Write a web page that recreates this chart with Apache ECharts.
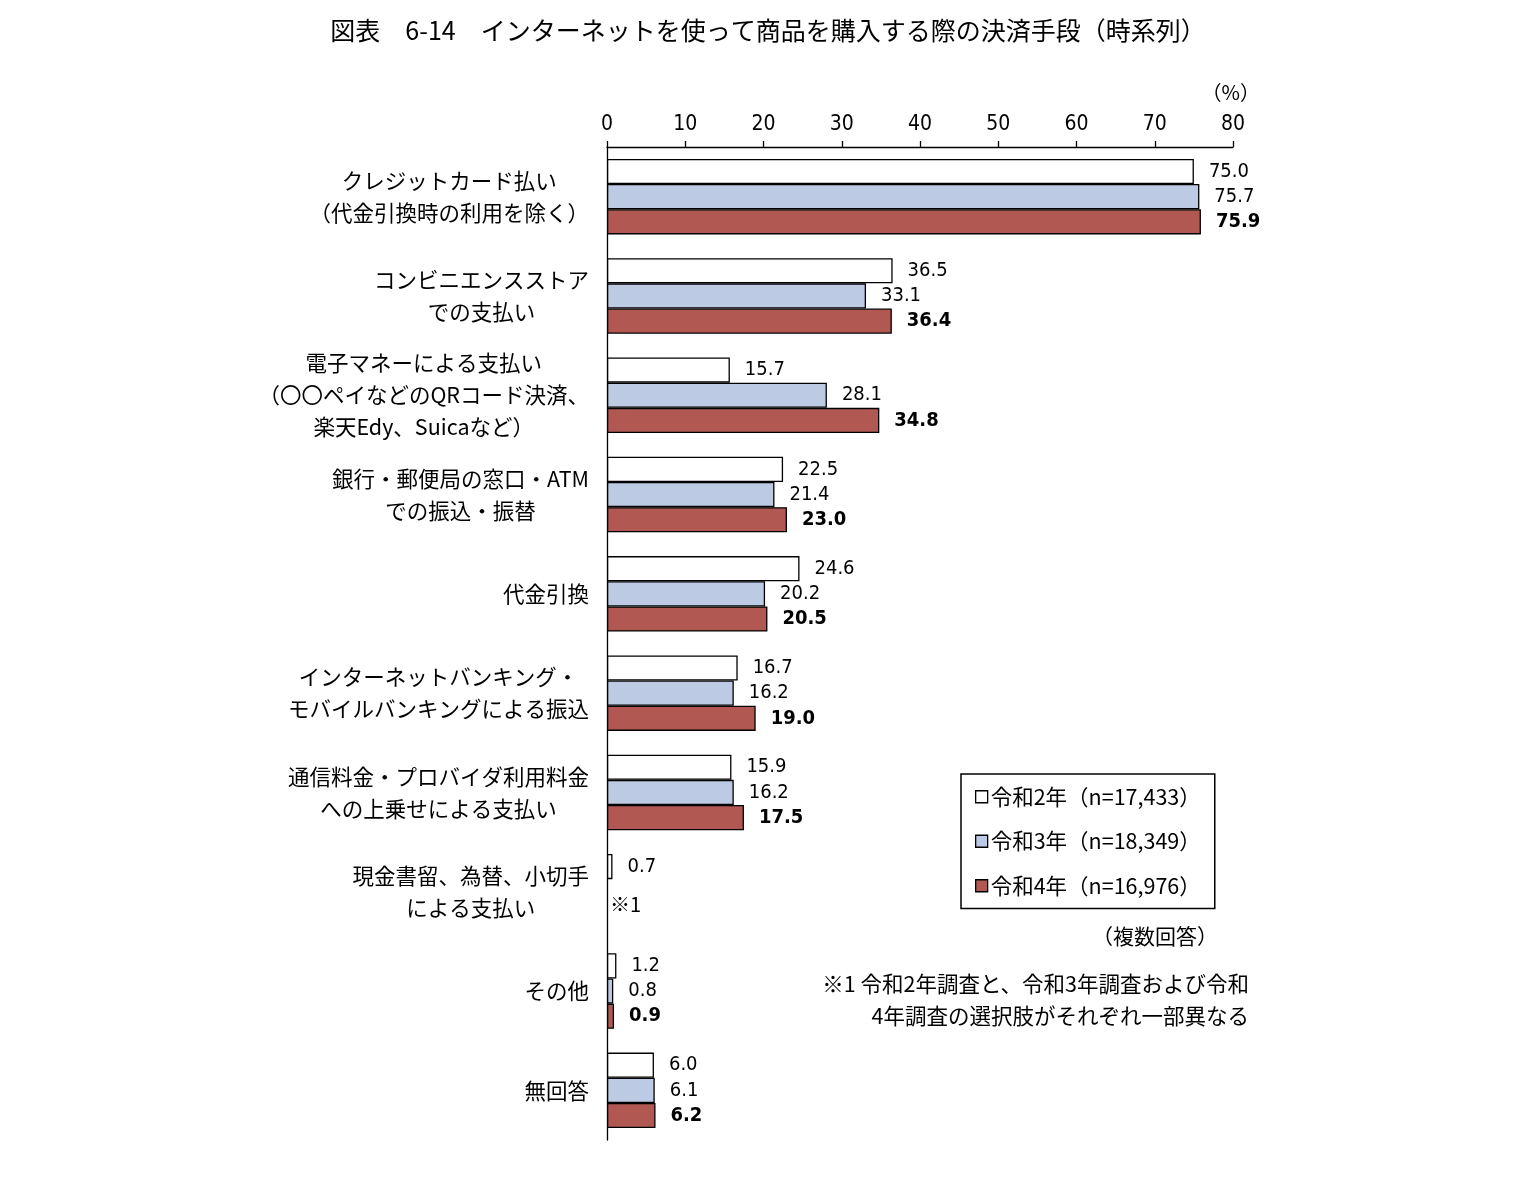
<!DOCTYPE html>
<html lang="ja">
<head>
    <meta charset="utf-8">
    <title>決済手段（時系列）</title>
    <script src="https://cdn.jsdelivr.net/npm/echarts@6/dist/echarts.min.js"></script>
    <style type="text/css">
        html, body {margin: 0; padding: 0; background: #fff;}
        #chart {width: 1536px; height: 1200px;}
    </style>
</head>
<body>
    <div id="chart"></div>
    <script>
        // categories, top to bottom; each entry is the lines of the label
        var categories = [
            ['クレジットカード払い', '（代金引換時の利用を除く）'],
            ['コンビニエンスストア', 'での支払い'],
            ['電子マネーによる支払い', '（〇〇ペイなどのQRコード決済、', '楽天Edy、Suicaなど）'],
            ['銀行・郵便局の窓口・ATM', 'での振込・振替'],
            ['代金引換'],
            ['インターネットバンキング・', 'モバイルバンキングによる振込'],
            ['通信料金・プロバイダ利用料金', 'への上乗せによる支払い'],
            ['現金書留、為替、小切手', 'による支払い'],
            ['その他'],
            ['無回答']
        ];
        var seriesNames = ['令和2年（n=17,433）', '令和3年（n=18,349）', '令和4年（n=16,976）'];
        var r2 = [75.0, 36.5, 15.7, 22.5, 24.6, 16.7, 15.9, 0.7, 1.2, 6.0];
        var r3 = [75.7, 33.1, 28.1, 21.4, 20.2, 16.2, 16.2, null, 0.8, 6.1];
        var r4 = [75.9, 36.4, 34.8, 23.0, 20.5, 19.0, 17.5, null, 0.9, 6.2];
        var xTicks = {min: 0, max: 80, interval: 10};
        var missingNote = '※1';

        var jp = '"Noto Sans CJK JP", "Noto Sans", sans-serif';
        var narrow = '"Liberation Sans Narrow", "DejaVu Sans Condensed", "Liberation Sans", sans-serif';
        var fills = ['#ffffff', '#bccbe3', '#b15852'];

        function makeData(arr, withNote) {
            return arr.map(function (v) {
                if (v !== null) return v;
                if (!withNote) return {value: null};
                return {
                    value: 0,
                    itemStyle: {borderWidth: 0, color: 'transparent'},
                    label: {formatter: missingNote, offset: [0, 13], distance: 3, fontFamily: jp, fontSize: 20}
                };
            });
        }

        var allData = [makeData(r2, false), makeData(r3, true), makeData(r4, false)];
        var series = allData.map(function (d, i) {
            return {
                name: seriesNames[i], type: 'bar', data: d,
                barGap: 0, barCategoryGap: '24%',
                itemStyle: {color: fills[i], borderColor: '#000', borderWidth: 1.3},
                label: {
                    show: true, position: 'right', distance: 15,
                    color: '#000', fontFamily: narrow, fontSize: 20,
                    fontWeight: i === 2 ? 'bold' : 'normal',
                    formatter: function (p) { return p.value.toFixed(1); }
                },
                emphasis: {disabled: true}
            };
        });

        var chart = echarts.init(document.getElementById('chart'));
        chart.setOption({
            animation: false,
            title: {
                text: '図表　6-14　インターネットを使って商品を購入する際の決済手段（時系列）',
                left: 'center', top: 13,
                textStyle: {fontFamily: jp, fontSize: 25, fontWeight: 'normal', color: '#000'}
            },
            grid: {left: 607, right: 303, top: 147, bottom: 60},
            xAxis: {
                type: 'value', position: 'top',
                min: xTicks.min, max: xTicks.max, interval: xTicks.interval,
                axisLine: {show: true, lineStyle: {color: '#000', width: 1.3}},
                axisTick: {show: true, length: 6, lineStyle: {color: '#000', width: 1.3}},
                axisLabel: {color: '#000', fontFamily: narrow, fontSize: 21, margin: 12},
                splitLine: {show: false}
            },
            yAxis: {
                type: 'category', inverse: true,
                data: categories.map(function (c) { return c.join('\n'); }),
                axisLine: {lineStyle: {color: '#000', width: 1.3}},
                axisTick: {length: 6, lineStyle: {color: '#000', width: 1.3}},
                axisLabel: {
                    margin: 18, align: 'right',
                    formatter: function (v) {
                        return v.split('\n').map(function (l) { return '{c|' + l + '}'; }).join('\n');
                    },
                    rich: {
                        c: {align: 'center', fontFamily: jp, fontSize: 21.5, color: '#000', lineHeight: 32}
                    }
                }
            },
            legend: {
                orient: 'vertical', left: 961, top: 774,
                padding: [12, 14, 12, 14], itemGap: 23,
                itemWidth: 12, itemHeight: 12, icon: 'rect', itemStyle: {borderWidth: 1.3},
                backgroundColor: '#fff', borderColor: '#000', borderWidth: 1.5,
                textStyle: {fontFamily: jp, fontSize: 21.5, color: '#000', padding: [0, 0, 0, -2]},
                data: seriesNames
            },
            graphic: [
                {type: 'text', right: 276, top: 82,
                 style: {text: '（%）', font: '20px ' + jp, fill: '#000'}},
                {type: 'text', right: 318, top: 926,
                 style: {text: '（複数回答）', font: '21px ' + jp, fill: '#000'}},
                {type: 'text', right: 287, top: 973,
                 style: {text: '※1 令和2年調査と、令和3年調査および令和', font: '21.5px ' + jp, fill: '#000'}},
                {type: 'text', right: 287, top: 1005,
                 style: {text: '4年調査の選択肢がそれぞれ一部異なる', font: '21.5px ' + jp, fill: '#000'}}
            ],
            series: series
        });
    </script>
</body>
</html>
